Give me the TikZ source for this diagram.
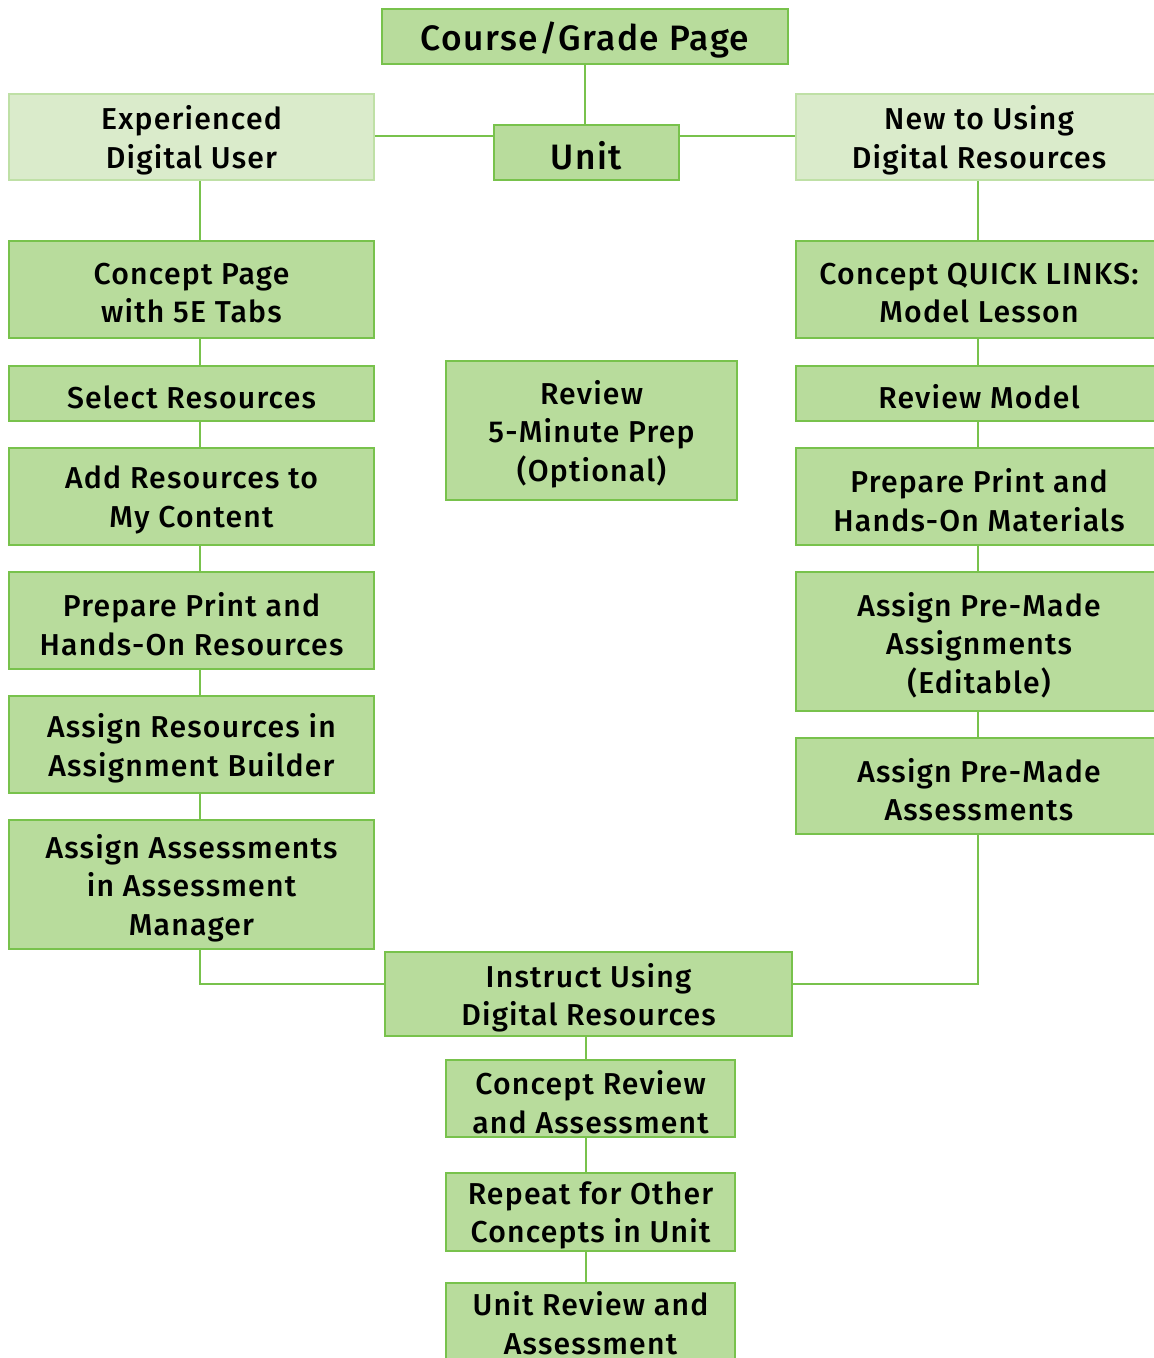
\documentclass[tikz,border=0pt]{standalone}
\usepackage{fontspec}
\setmainfont{Fira Sans Medium}[LetterSpace=4]
\definecolor{boxfill}{HTML}{B8DC9C}
\definecolor{boxdraw}{HTML}{78C24C}
\definecolor{lightfill}{HTML}{DAEBCB}
\definecolor{lightdraw}{HTML}{BFE0A6}
\definecolor{linec}{HTML}{78C24C}
\tikzset{
  box/.style={draw=boxdraw, fill=boxfill, line width=2.5pt, rectangle, inner sep=0pt},
  lightbox/.style={box, draw=lightdraw, fill=lightfill},
  txt/.style={align=center, inner sep=0pt, font=\fontsize{30.2}{38.5}\selectfont},
  bigtxt/.style={txt, font=\fontsize{35.3}{40}\selectfont},
  conn/.style={draw=linec, line width=2.2pt},
}
\newcommand{\bx}[8]{% style, textstyle, name, left, top, right, bottom, text
  \node[#1, minimum width={(#6-#4)*1pt}, minimum height={(#7-#5)*1pt}] (#3) at ({(#4+#6)/2*1pt},{-(#5+#7)/2*1pt}) {};
  \node[#2] (#3-t) at ([yshift=-3.5pt]#3.center) {#8};}
\begin{document}
\begin{tikzpicture}[x=1pt,y=-1pt]
\useasboundingbox (0,0) rectangle (1154,1358);
\begin{scope}
\clip (0,0) rectangle (1154,1358);
% connectors first
\coordinate (lj) at (200,984);
\coordinate (rj) at (978,984);
\draw[conn] (585,64) -- (585,125);
\draw[conn] (374,136) -- (494,136);
\draw[conn] (679,136) -- (796,136);
\draw[conn] (200,180) -- (200,949) -- (lj) -- (385,984);
\draw[conn] (978,180) -- (978,834) -- (rj) -- (792,984);
\draw[conn] (586,1036) -- (586,1300);
% nodes
\bx{box}{bigtxt}{course}{382}{9}{788}{64}{Course/Grade Page}
\bx{box}{bigtxt}{unit}{494}{125}{679}{180}{Unit}
\bx{lightbox}{txt}{exp}{9}{94}{374}{180}{Experienced\\Digital User}
\bx{lightbox}{txt}{new}{796}{94}{1162}{180}{New to Using\\Digital Resources}
\bx{box}{txt}{l1}{9}{241}{374}{338}{Concept Page\\with 5E Tabs}
\bx{box}{txt}{l2}{9}{366}{374}{421}{Select Resources}
\bx{box}{txt}{l3}{9}{448}{374}{545}{Add Resources to\\My Content}
\bx{box}{txt}{l4}{9}{572}{374}{669}{Prepare Print and\\Hands-On Resources}
\bx{box}{txt}{l5}{9}{696}{374}{793}{Assign Resources in\\Assignment Builder}
\bx{box}{txt}{l6}{9}{820}{374}{949}{Assign Assessments\\in Assessment\\Manager}
\bx{box}{txt}{mid}{446}{361}{737}{500}{Review\\5-Minute Prep\\(Optional)}
\bx{box}{txt}{r1}{796}{241}{1162}{338}{Concept QUICK LINKS:\\Model Lesson}
\bx{box}{txt}{r2}{796}{366}{1162}{421}{Review Model}
\bx{box}{txt}{r3}{796}{448}{1162}{545}{Prepare Print and\\Hands-On Materials}
\bx{box}{txt}{r4}{796}{572}{1162}{711}{Assign Pre-Made\\Assignments\\(Editable)}
\bx{box}{txt}{r5}{796}{738}{1162}{834}{Assign Pre-Made\\Assessments}
\bx{box}{txt}{ins}{385}{952}{792}{1036}{Instruct Using\\Digital Resources}
\bx{box}{txt}{b1}{446}{1060}{735}{1137}{Concept Review\\and Assessment}
\bx{box}{txt}{b2}{446}{1173}{735}{1251}{Repeat for Other\\Concepts in Unit}
\node[box, minimum width=289pt, minimum height=97pt] (b3) at (590.5,1331.5) {};
\node[txt] (b3-t) at (590.5,1323) {Unit Review and\\Assessment};
\end{scope}
\end{tikzpicture}
\end{document}
